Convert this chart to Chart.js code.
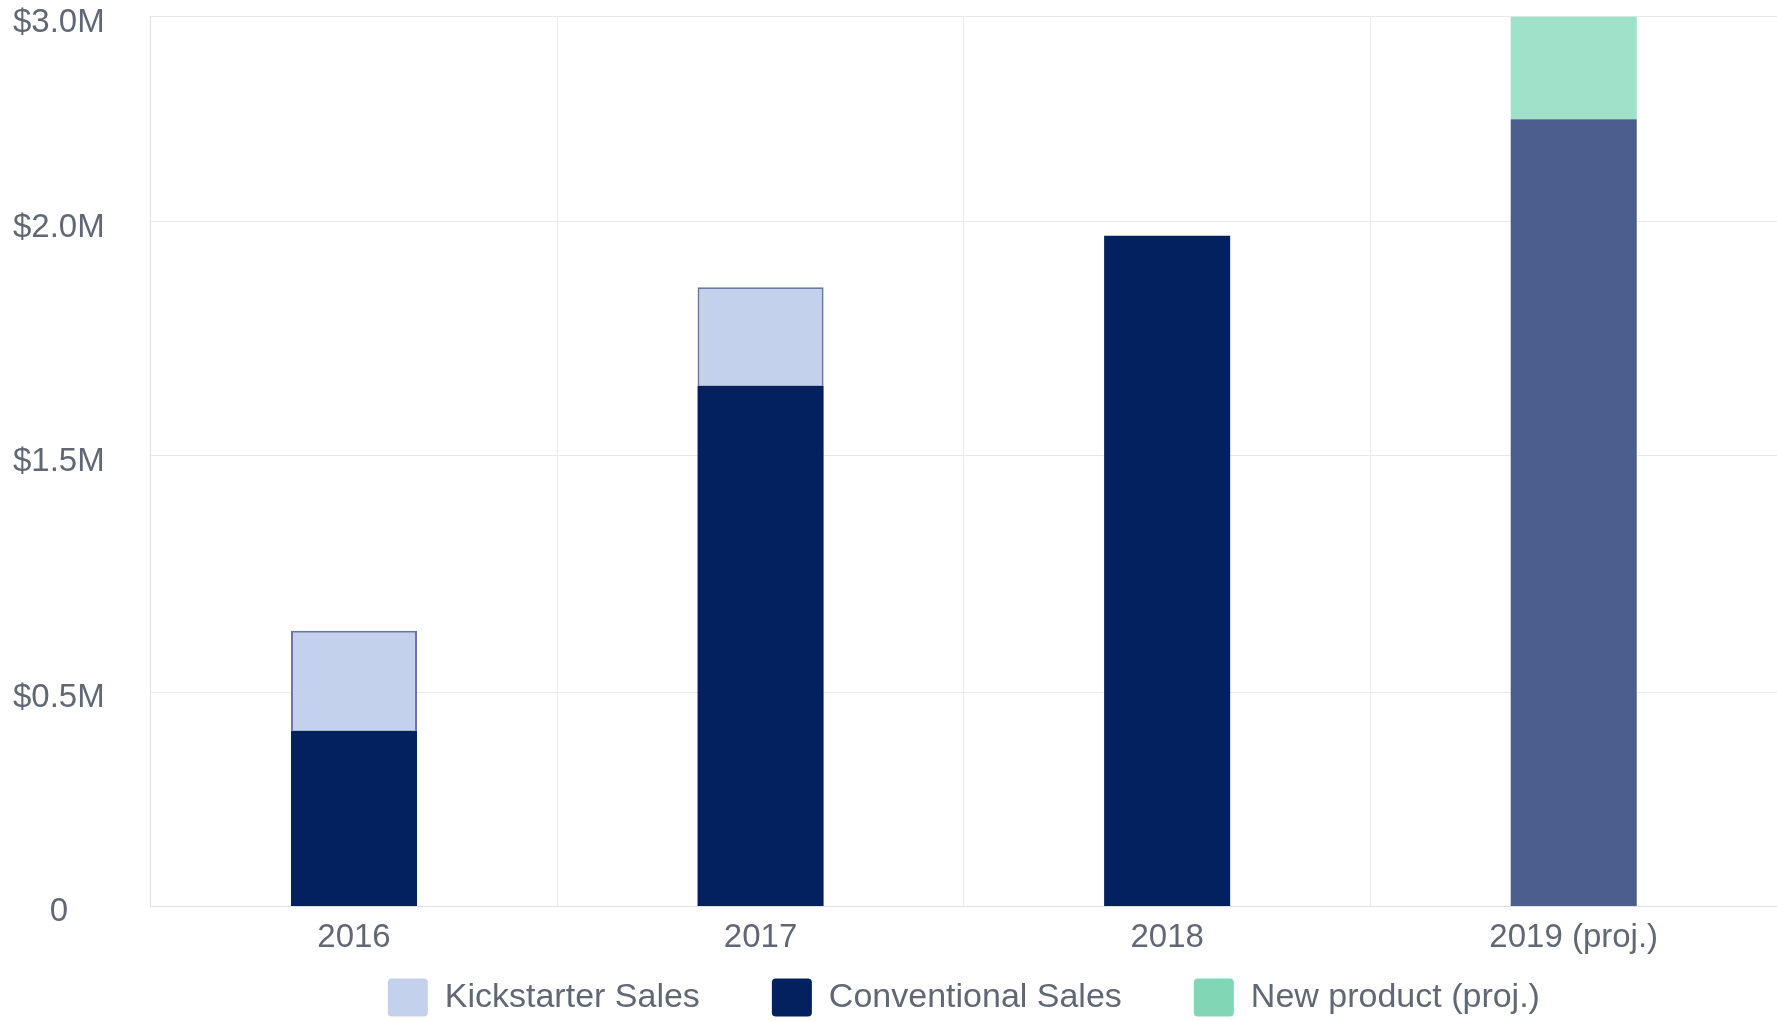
<!DOCTYPE html>
<html>
<head>
<meta charset="utf-8">
<script src="https://cdn.jsdelivr.net/npm/chart.js@4/dist/chart.umd.min.js"></script>
<style>
  html, body { margin: 0; padding: 0; background: #fff; }
  canvas { display: block; }
</style>
</head>
<body>
<canvas id="salesChart" width="1777" height="1021"></canvas>
<script>
const years = ['2016', '2017', '2018', '2019 (proj.)'];

// values in $M
const conventionalSales = [0.41, 1.65, 1.97, 2.5];
const kickstarterSales = [0.35, 0.21, null, null];
const newProduct = [null, null, null, 0.5];

const yTicks = [0, 0.5, 1.5, 2.0, 3.0];
const yTickLabels = ['0', '$0.5M', '$1.5M', '$2.0M', '$3.0M'];

// the original axis is not evenly spaced, so map each tick to where it sits
const tickSpots = [0, 0.2408, 0.5062, 0.7693, 1];

function toFraction(v) {
  if (v <= yTicks[0]) return 0;
  for (let i = 1; i < yTicks.length; i++) {
    if (v <= yTicks[i]) {
      const t = (v - yTicks[i - 1]) / (yTicks[i] - yTicks[i - 1]);
      return tickSpots[i - 1] + t * (tickSpots[i] - tickSpots[i - 1]);
    }
  }
  return 1;
}

class PiecewiseScale extends Chart.LinearScale {
  getPixelForValue(value) {
    if (value === null || value === undefined || isNaN(value)) return NaN;
    return this.getPixelForDecimal(toFraction(value));
  }
  getValueForPixel(pixel) {
    const f = this.getDecimalForPixel(pixel);
    for (let i = 1; i < tickSpots.length; i++) {
      if (f <= tickSpots[i]) {
        const t = (f - tickSpots[i - 1]) / (tickSpots[i] - tickSpots[i - 1]);
        return yTicks[i - 1] + t * (yTicks[i] - yTicks[i - 1]);
      }
    }
    return yTicks[yTicks.length - 1];
  }
}
PiecewiseScale.id = 'piecewise';
PiecewiseScale.defaults = Chart.LinearScale.defaults;
Chart.register(PiecewiseScale);

const navy = '#03205f';
const textGray = '#606876';
const gridGray = '#e7e9ed';
const fontFamily = "'Liberation Sans', Arial, Helvetica, sans-serif";

const legendOrder = ['Kickstarter Sales', 'Conventional Sales', 'New product (proj.)'];

// wide gaps between legend items but a short legend:
// keep its box small and let it draw from the top of the x axis band
const legendSpace = {
  id: 'legendSpace',
  beforeInit(chart) {
    const legend = chart.legend;
    const fit = legend.fit;
    legend.fit = function () {
      fit.call(this);
      this.height = 51;
    };
    const draw = legend.draw;
    legend.draw = function () {
      const top = this.top;
      this.top = chart.scales.x.top;
      draw.call(this);
      this.top = top;
    };
  }
};

const data = {
  labels: years,
  datasets: [
    {
      label: 'Conventional Sales',
      data: conventionalSales,
      backgroundColor: [navy, navy, navy, '#4b5f8e'],
      borderWidth: 0
    },
    {
      label: 'Kickstarter Sales',
      data: kickstarterSales,
      backgroundColor: '#c3d1ed',
      borderColor: '#6877a3',
      borderWidth: 2
    },
    {
      label: 'New product (proj.)',
      data: newProduct,
      backgroundColor: '#9ee3c9',
      borderWidth: 0
    }
  ]
};

const config = {
  type: 'bar',
  data: data,
  plugins: [legendSpace],
  options: {
    responsive: false,
    animation: false,
    layout: { padding: { left: 13, right: 0, top: 0, bottom: 0 } },
    datasets: {
      bar: { categoryPercentage: 0.31, barPercentage: 1 }
    },
    scales: {
      x: {
        stacked: true,
        grid: { color: gridGray, drawTicks: false, offset: true },
        border: { color: '#dcdfe4' },
        ticks: {
          color: textGray,
          padding: 12,
          font: { family: fontFamily, size: 33 }
        }
      },
      y: {
        type: 'piecewise',
        stacked: true,
        min: 0,
        max: 3,
        afterBuildTicks: axis => {
          axis.ticks = yTicks.map(v => ({ value: v }));
        },
        grid: { color: gridGray, drawTicks: true, tickLength: 46, tickColor: 'rgba(0,0,0,0)' },
        border: { color: '#dcdfe4' },
        ticks: {
          color: textGray,
          padding: 0,
          labelOffset: 6,
          crossAlign: 'center',
          font: { family: fontFamily, size: 33, lineHeight: 1 },
          callback: (value, i) => yTickLabels[i]
        }
      }
    },
    plugins: {
      tooltip: { enabled: false },
      legend: {
        position: 'bottom',
        fullSize: false,
        labels: {
          color: textGray,
          font: { family: fontFamily, size: 34 },
          boxWidth: 40,
          boxHeight: 38,
          useBorderRadius: true,
          borderRadius: 4,
          padding: 72,
          sort: (a, b) => legendOrder.indexOf(a.text) - legendOrder.indexOf(b.text),
          generateLabels: chart => {
            const items = Chart.defaults.plugins.legend.labels.generateLabels(chart);
            items.forEach(item => {
              item.lineWidth = 0;
              if (item.text === 'New product (proj.)') item.fillStyle = '#80d7b5';
            });
            return items;
          }
        }
      }
    }
  }
};

const salesChart = new Chart(document.getElementById('salesChart'), config);
</script>
</body>
</html>
